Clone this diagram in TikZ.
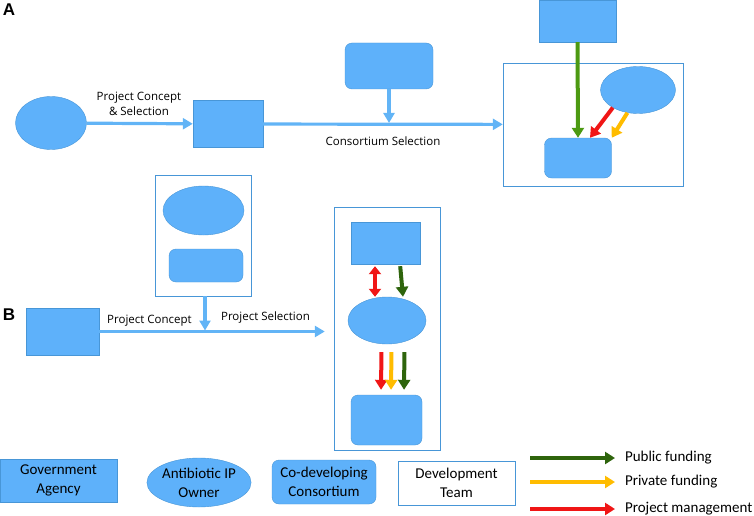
\documentclass[tikz,border=0pt]{standalone}
\usepackage{fontspec}
\setmainfont{Carlito}
\newfontfamily\flowfont{Open Sans}
\newfontfamily\panelfont{Liberation Sans}
\usetikzlibrary{arrows.meta,shapes.geometric}

\definecolor{boxblue}{RGB}{94,177,250}
\definecolor{edgeblue}{RGB}{72,150,215}
\definecolor{flowblue}{RGB}{98,180,246}
\definecolor{pubgreen}{RGB}{46,100,12}
\definecolor{pubgreenA}{RGB}{76,154,18}
\definecolor{privyellow}{RGB}{255,188,0}
\definecolor{mgmtred}{RGB}{240,22,22}

\begin{document}
\begin{tikzpicture}[x=1pt,y=-1pt,
  agency/.style={rectangle,draw=edgeblue,fill=boxblue,inner sep=0pt},
  owner/.style={ellipse,draw=edgeblue,fill=boxblue,inner sep=0pt},
  consort/.style={rectangle,rounded corners=7pt,draw=edgeblue,fill=boxblue,inner sep=0pt},
  team/.style={rectangle,draw=edgeblue,fill=white,inner sep=0pt},
  flow/.style={flowblue,line width=3.2pt,-{Triangle[length=10pt,width=11pt]}},
  fund/.style={line width=4pt,-{Triangle[length=10pt,width=12pt]}},
  flowlbl/.style={font=\flowfont\fontsize{11.5}{14.5}\selectfont,inner sep=0pt,align=center},
  leglbl/.style={font=\fontsize{15}{19}\selectfont,align=center}]
\useasboundingbox (0,0) rectangle (754,516);

\node[font=\panelfont\bfseries\fontsize{17}{17}\selectfont] (panA) at (9,10) {A};
\node[font=\panelfont\bfseries\fontsize{17}{17}\selectfont] (panB) at (9,315) {B};

% panel A
\node[owner,minimum width=71pt,minimum height=53pt] (ownA) at (51,123) {};
\node[agency,minimum width=70pt,minimum height=47pt] (agA) at (228,124) {};
\node[consort,minimum width=88pt,minimum height=46pt] (conA) at (389,66) {};
\node[team,minimum width=180pt,minimum height=123pt] (teamA) at (593,124.5) {};
\node[agency,minimum width=77pt,minimum height=42pt] (agA2) at (577.5,21) {};
\node[owner,minimum width=75pt,minimum height=47pt] (ownA2) at (638,90) {};
\node[consort,minimum width=67pt,minimum height=40pt] (conA2) at (578,158) {};

\coordinate (joinA) at (conA.south |- agA.east);
\draw[flow] (ownA) -- (agA);
\draw[flow] (agA) -- (teamA);
\draw[flow] (conA) -- ([yshift=1pt]joinA);
\node[flowlbl] (lblA1) at (139,104) {Project Concept\\\& Selection};
\node[flowlbl] (lblA2) at (383,141) {Consortium Selection};

\draw[fund,pubgreenA] (agA2.south) -- (conA2.north);
\draw[fund,mgmtred] (ownA2.215) -- ([xshift=12pt]conA2.north);
\draw[fund,privyellow] (ownA2.245) -- (conA2.north east);

% panel B
\node[agency,minimum width=73pt,minimum height=47pt] (agB) at (62.5,331.5) {};
\node[team,minimum width=96pt,minimum height=121pt] (teamB1) at (203,235.5) {};
\node[owner,minimum width=81pt,minimum height=49pt] (ownB1) at (203.5,210.5) {};
\node[consort,minimum width=74pt,minimum height=33pt] (conB1) at (206,265.5) {};
\node[team,minimum width=106pt,minimum height=243pt] (teamB2) at (387,328.5) {};
\node[agency,minimum width=69pt,minimum height=42pt] (agB2) at (385.5,243) {};
\node[owner,minimum width=78pt,minimum height=47pt] (ownB2) at (387,320.5) {};
\node[consort,minimum width=71pt,minimum height=50pt] (conB2) at (386.5,420) {};

\coordinate (joinB) at (teamB1.south |- agB.east);
\draw[flow,shorten >=9pt] (agB.east) -- (teamB2.west |- agB.east);
\draw[flow] ([xshift=2pt]teamB1.south) -- ([xshift=2pt,yshift=1pt]joinB);
\node[flowlbl] (lblB1) at (149.5,321) {Project Concept};
\node[flowlbl] (lblB2) at (265.5,318) {Project Selection};

\draw[fund,mgmtred,{Triangle[length=8pt,width=12pt]}-{Triangle[length=8pt,width=12pt]},shorten <=2pt] ([xshift=-10.5pt]agB2.south) -- ([xshift=-12pt]ownB2.north);
\draw[fund,pubgreen,shorten <=2pt] ([xshift=14.5pt]agB2.south) -- ([xshift=16pt]ownB2.north);
\foreach \c/\dx in {mgmtred/-5.5,privyellow/4.5,pubgreen/17.5}
  \draw[fund,\c,shorten <=8pt,shorten >=5pt] ([xshift=\dx pt]ownB2.south) -- ([xshift=\dx pt]conB2.north);

% legend
\node[agency,minimum width=117pt,minimum height=43pt,leglbl] (legAg) at (58.5,480.5) {Government\\Agency};
\node[owner,minimum width=86pt,minimum height=49pt,leglbl,inner sep=0pt] (legOwn) at (199,482.5) {Antibiotic IP\\Owner};
\node[consort,minimum width=104pt,minimum height=44pt,leglbl] (legCon) at (324,482) {Co-developing\\Consortium};
\node[team,minimum width=117pt,minimum height=44pt,leglbl] (legTeam) at (456.5,483) {Development\\Team};

\foreach \c/\y/\t in {pubgreen/458/Public funding,privyellow/482/Private funding,mgmtred/509/Project management}
  \draw[fund,\c] (530,\y) -- (615,\y) node[right,text=black,font=\fontsize{15}{15}\selectfont,inner sep=0pt,xshift=8pt] (leg\c) {\t};
\end{tikzpicture}
\end{document}
